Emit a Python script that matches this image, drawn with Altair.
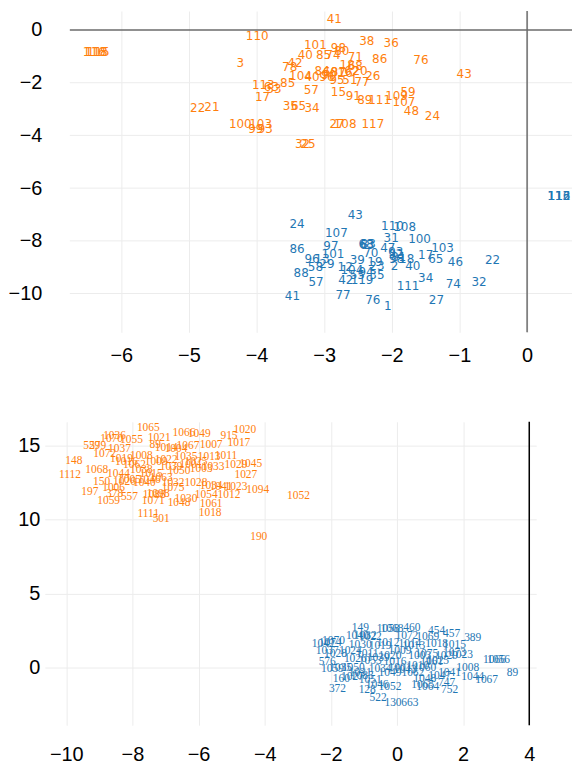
import altair as alt
import pandas as pd

# ---------------- top panel ----------------
top_orange_labels = ["116", "118", "115", "110", "3", "101", "40", "42", "78", "104", "40", "96", "90",
                     "113", "53", "63", "85", "57", "17", "35", "65", "34", "22", "21", "100", "103",
                     "99", "93", "32", "25", "41", "38", "36", "98", "80", "85", "74", "71", "86", "76",
                     "43", "18", "68", "84", "60", "87", "16", "62", "20", "26", "95", "51", "77", "15",
                     "91", "89", "111", "109", "59", "107", "48", "24", "27", "108", "117"]
top_orange_x = [-6.40, -6.37, -6.34, -3.99, -4.24, -3.13, -3.28, -3.43, -3.51, -3.35, -3.18, -2.96, -2.93,
                -3.90, -3.74, -3.78, -3.54, -3.19, -3.91, -3.50, -3.38, -3.18, -4.87, -4.66, -4.24, -3.94,
                -4.01, -3.87, -3.32, -3.24, -2.85, -2.37, -2.01, -2.79, -2.74, -3.01, -2.87, -2.54, -2.18, -1.57,
                -0.93, -2.66, -2.54, -3.03, -2.91, -2.79, -2.69, -2.59, -2.47, -2.28, -2.81, -2.62, -2.44, -2.79,
                -2.57, -2.40, -2.18, -1.93, -1.76, -1.82, -1.71, -1.40, -2.81, -2.69, -2.28]
top_orange_y = [-0.83, -0.83, -0.83, -0.23, -1.25, -0.57, -0.94, -1.25, -1.40, -1.74, -1.77, -1.77, -1.70,
                -2.08, -2.23, -2.15, -2.00, -2.26, -2.53, -2.87, -2.87, -2.98, -2.98, -2.94, -3.58, -3.58,
                -3.77, -3.74, -4.34, -4.34, 0.42, -0.42, -0.49, -0.68, -0.79, -0.94, -0.94, -1.02, -1.09, -1.13,
                -1.66, -1.32, -1.36, -1.55, -1.58, -1.58, -1.62, -1.55, -1.55, -1.74, -1.89, -1.89, -1.96, -2.34,
                -2.49, -2.64, -2.64, -2.49, -2.34, -2.75, -3.06, -3.28, -3.58, -3.58, -3.55]

top_blue_labels = ["113", "116", "112", "24", "43", "107", "110", "108", "31", "100", "103", "86", "97",
                   "68", "83", "63", "47", "70", "92", "98", "18", "17", "65", "46", "22", "101", "96",
                   "13", "58", "29", "39", "19", "12", "23", "2", "40", "104", "94", "35", "55", "119",
                   "42", "88", "57", "34", "74", "32", "111", "41", "77", "76", "1", "27", "93", "81"]
top_blue_x = [0.465, 0.47, 0.475, -3.40, -2.54, -2.82, -1.99, -1.81, -2.01, -1.59, -1.25, -3.40, -2.90,
              -2.38, -2.35, -2.37, -2.06, -2.31, -1.94, -1.93, -1.78, -1.50, -1.35, -1.06, -0.51, -2.87, -3.18,
              -3.03, -3.13, -2.96, -2.51, -2.25, -2.69, -2.22, -1.96, -1.69, -2.59, -2.38, -2.22, -2.51, -2.44,
              -2.68, -3.34, -3.12, -1.50, -1.09, -0.71, -1.76, -3.47, -2.72, -2.28, -2.06, -1.34, -1.94, -1.90]
top_blue_y = [-6.30, -6.30, -6.30, -7.36, -7.02, -7.70, -7.43, -7.47, -7.89, -7.92, -8.26, -8.30, -8.19,
              -8.11, -8.11, -8.15, -8.26, -8.45, -8.49, -8.68, -8.68, -8.53, -8.68, -8.79, -8.72, -8.49, -8.68,
              -8.68, -8.98, -8.87, -8.72, -8.79, -8.98, -8.94, -8.94, -8.94, -9.09, -9.17, -9.28, -9.28, -9.47,
              -9.47, -9.21, -9.58, -9.40, -9.62, -9.55, -9.70, -10.08, -10.04, -10.26, -10.49, -10.26, -8.42, -8.60]

top_x_ticks = [-6, -5, -4, -3, -2, -1, 0]
top_y_ticks = [-10, -8, -6, -4, -2, 0]
top_grid_y = [-10, -8, -6, -4, -2]
top_hline = [0]
top_vline = [0]
top_x_extent = [-6.76, 0.664]   # x range spanned by the horizontal grid / zero lines

# ---------------- bottom panel ----------------
bot_orange_labels = ["1065", "1036", "1070", "1055", "1021", "1066", "1049", "1020", "915", "1017", "1007",
                     "1067", "1014", "89", "529", "579", "1037", "1072", "148", "1112", "1068", "1044",
                     "1019", "1062", "1008", "1015", "1063", "150", "1026", "1005", "1040", "1046", "1032",
                     "1075", "1006", "197", "378", "557", "1059", "1098", "1088", "1071", "1111", "501",
                     "1011", "1013", "1033", "1029", "1045", "1027", "1050", "1028", "1034", "1041", "1023",
                     "1094", "1052", "1054", "1012", "1030", "1048", "1061", "1018", "190", "1004", "1022",
                     "1035", "1025", "1039", "1001", "1003", "1016", "1009", "1038"]
bot_orange_x = [-7.52, -8.54, -8.63, -8.03, -7.19, -6.44, -5.98, -4.60, -5.08, -4.78, -5.62,
                -6.32, -6.98, -7.31, -9.23, -9.05, -8.39, -8.84, -9.77, -9.89, -9.08, -8.42,
                -8.33, -7.94, -7.73, -7.43, -7.13, -8.93, -8.24, -8.09, -7.64, -7.49, -6.77,
                -6.77, -8.57, -9.29, -8.54, -8.09, -8.72, -7.22, -7.34, -7.37, -7.52, -7.13,
                -5.17, -5.68, -5.56, -4.87, -4.42, -4.57, -6.59, -6.08, -5.62, -5.32, -4.87,
                -4.21, -2.98, -5.77, -5.08, -6.38, -6.59, -5.62, -5.65, -4.18, -6.68, -6.98,
                -6.38, -6.08, -6.83, -6.23, -5.92, -8.18, -7.28, -7.73]
bot_orange_y = [16.17, 15.64, 15.44, 15.37, 15.50, 15.84, 15.77, 16.04, 15.64, 15.17, 15.03,
                14.97, 14.83, 15.03, 14.97, 14.97, 14.77, 14.43, 13.96, 13.02, 13.36, 13.09,
                14.09, 13.69, 14.30, 13.09, 12.82, 12.55, 12.55, 12.68, 12.48, 12.62, 12.42,
                12.08, 12.08, 11.81, 11.68, 11.48, 11.21, 11.68, 11.61, 11.21, 10.34, 10.00,
                14.30, 14.23, 13.56, 13.69, 13.76, 13.02, 13.29, 12.42, 12.28, 12.21, 12.15,
                11.95, 11.54, 11.61, 11.61, 11.34, 11.07, 11.01, 10.40, 8.79, 14.77, 14.03,
                14.23, 13.89, 13.56, 13.69, 13.42, 13.89, 13.89, 13.36]

bot_blue_labels = ["149", "1058", "1068", "460", "454", "457", "389", "1040", "1032", "1022", "1072",
                   "1069", "1074", "1070", "1030", "1019", "1012", "1014", "1013", "1018", "1015", "1042",
                   "1037", "1024", "1011", "1009", "1075", "1023", "1029", "1028", "576", "1059", "1050",
                   "1034", "1001", "1060", "1008", "1041", "1044", "1067", "1066", "1056", "89", "160",
                   "1027", "1083", "1049", "1062", "1048", "1065", "1064", "747", "752", "372", "1046",
                   "1052", "128", "522", "130", "663", "1035", "1020", "1010", "1061", "1073", "1053",
                   "1016", "1043", "1031", "1047", "1026", "1039", "1003", "1025", "1051"]
bot_blue_x = [-1.11, -0.27, -0.15, 0.45, 1.20, 1.65, 2.29, -1.20, -0.96, -0.81, 0.30,
              0.93, -2.02, -1.92, -1.11, -0.51, -0.27, 0.39, 0.51, 1.20, 1.74, -2.23,
              -2.11, -1.41, -0.90, 0.09, 0.90, 1.95, 1.50, -1.86, -2.11, -1.95, -1.32,
              -0.51, 0.09, 0.84, 2.14, 1.59, 2.29, 2.71, 2.95, 3.07, 3.49, -1.68,
              -1.35, -1.05, -0.21, 0.48, 0.84, 0.78, 0.93, 1.50, 1.59, -1.80, -0.60,
              -0.21, -0.90, -0.57, -0.12, 0.39, -1.71, -0.21, 0.63, 1.05, 1.74, -0.81,
              -0.06, 0.24, -1.11, 1.29, -1.26, -0.57, 0.69, 1.23, -0.81]
bot_blue_y = [2.68, 2.62, 2.62, 2.68, 2.48, 2.28, 2.01, 2.15, 2.15, 2.08, 2.15,
              2.08, 1.68, 1.81, 1.54, 1.48, 1.68, 1.61, 1.48, 1.61, 1.54, 1.61,
              1.14, 1.14, 0.94, 1.14, 0.94, 0.87, 0.81, 0.94, 0.34, -0.07, 0.00,
              -0.07, 0.00, 0.00, 0.00, -0.34, -0.67, -0.81, 0.54, 0.54, -0.40, -0.74,
              -0.67, -0.54, -0.34, -0.40, -0.74, -1.21, -1.28, -1.07, -1.54, -1.48, -1.21,
              -1.34, -1.54, -2.08, -2.42, -2.42, 0.00, 0.81, 0.13, 0.34, 1.01, 0.47,
              0.34, -0.20, -0.34, -0.54, 0.60, 0.67, 0.81, 0.47, -0.87]

bot_x_ticks = [-10, -8, -6, -4, -2, 0, 2, 4]
bot_y_ticks = [0, 5, 10, 15]
bot_vline = [4]

groups = ["a", "b"]
colors = ["#ff7f0e", "#1f77b4"]
GRID = "#ececec"
AXIS_FONT = "Liberation Sans"
AXIS_SIZE = 20


def frame(labels, xs, ys, g):
    return pd.DataFrame({"label": labels, "x": xs, "y": ys, "g": g})


top_df = pd.concat([frame(top_orange_labels, top_orange_x, top_orange_y, "a"),
                    frame(top_blue_labels, top_blue_x, top_blue_y, "b")])
bot_df = pd.concat([frame(bot_orange_labels, bot_orange_x, bot_orange_y, "a"),
                    frame(bot_blue_labels, bot_blue_x, bot_blue_y, "b")])

color = alt.Color("g:N", scale=alt.Scale(domain=groups, range=colors), legend=None)


def ax(values, pad, grid=True, ext=None):
    kw = dict(values=values, grid=grid, gridColor=GRID, gridWidth=1, ticks=False, domain=False,
              labelFont=AXIS_FONT, labelFontSize=AXIS_SIZE, labelColor="#000000", labelPadding=pad,
              title=None, format="d")
    if ext is not None:
        kw["minExtent"] = ext
        kw["maxExtent"] = ext
    return alt.Axis(**kw)


# top
tx = alt.Scale(domain=[-7.13, 0.664], nice=False, zero=False)
ty = alt.Scale(domain=[-11.47, 0.72], nice=False, zero=False)

top_text = alt.Chart(top_df).mark_text(font="DejaVu Sans", fontSize=12, align="center",
                                       baseline="middle").encode(
    x=alt.X("x:Q", scale=tx, axis=ax(top_x_ticks, 13, ext=40)),
    y=alt.Y("y:Q", scale=ty, axis=ax(top_y_ticks, 3, grid=False, ext=35)),
    text="label:N",
    color=color,
)
grid_df = pd.DataFrame({"y": top_grid_y, "x": top_x_extent[0], "x2": top_x_extent[1]})
top_grid = alt.Chart(grid_df).mark_rule(color=GRID, strokeWidth=1).encode(
    y=alt.Y("y:Q", scale=ty), x=alt.X("x:Q", scale=tx), x2="x2")
h_df = pd.DataFrame({"y": top_hline, "x": top_x_extent[0], "x2": top_x_extent[1]})
top_h = alt.Chart(h_df).mark_rule(color="#6b6b6b", strokeWidth=1.5).encode(
    y=alt.Y("y:Q", scale=ty), x=alt.X("x:Q", scale=tx), x2="x2")
top_v = alt.Chart(pd.DataFrame({"x": top_vline})).mark_rule(color="#6b6b6b", strokeWidth=1.5).encode(
    x=alt.X("x:Q", scale=tx))
top = alt.layer(top_grid, top_h, top_v, top_text).properties(width=530, height=323)

# bottom
bx = alt.Scale(domain=[-10.65, 4.21], nice=False, zero=False)
by = alt.Scale(domain=[-3.89, 16.58], nice=False, zero=False)

bot_text = alt.Chart(bot_df).mark_text(font="Liberation Serif", fontSize=11.5, align="center",
                                       baseline="middle").encode(
    x=alt.X("x:Q", scale=bx, axis=ax(bot_x_ticks, 19)),
    y=alt.Y("y:Q", scale=by, axis=ax(bot_y_ticks, 5, ext=35)),
    text="label:N",
    color=color,
)
bot_v = alt.Chart(pd.DataFrame({"x": bot_vline})).mark_rule(color="#000000", strokeWidth=1.5).encode(
    x=alt.X("x:Q", scale=bx))
bottom = alt.layer(bot_v, bot_text).properties(width=494, height=305)

chart = alt.vconcat(top, bottom, spacing=49).properties(
    padding={"left": 0, "top": 0, "right": 0, "bottom": 0}
).configure_view(stroke=None)

chart.save("out.html", embed_options={"renderer": "svg", "actions": False})
